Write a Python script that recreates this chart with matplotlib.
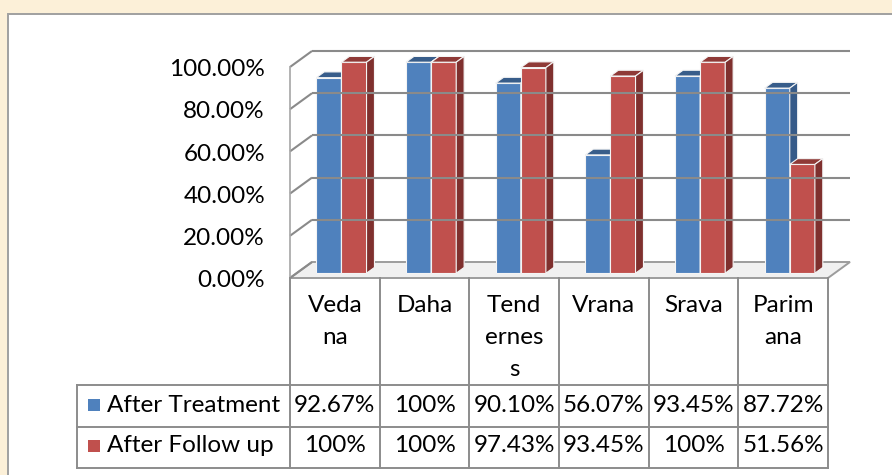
import matplotlib
matplotlib.use("Agg")
import matplotlib.pyplot as plt
from matplotlib.patches import Polygon, Rectangle

# chart data
categories = ["Vedana", "Daha", "Tenderness", "Vrana", "Srava", "Parimana"]
header_lines = [["Veda", "na"], ["Daha"], ["Tend", "ernes", "s"],
                ["Vrana"], ["Srava"], ["Parim", "ana"]]
series_names = ["After Treatment", "After Follow up"]
after_treatment = [92.67, 100, 90.10, 56.07, 93.45, 87.72]
after_follow_up = [100, 100, 97.43, 93.45, 100, 51.56]
treatment_labels = ["92.67%", "100%", "90.10%", "56.07%", "93.45%", "87.72%"]
follow_up_labels = ["100%", "100%", "97.43%", "93.45%", "100%", "51.56%"]
y_ticks = [0, 20, 40, 60, 80, 100]

FONT = "Lato"
FS = 17.5
W, H = 892, 475

# face colours: front, top, side
blue = ("#4f81bd", "#385d8a", "#365a88")
red = ("#c0504d", "#8f3a37", "#7f302e")
grid_c = "#8a8a8a"

n = len(categories)
px_per_cat = 538 / n
px_per_pct = 211 / 100.0
DX = 22 / px_per_cat   # depth offset in category units
DY = 16 / px_per_pct   # depth offset in percent units
Z0, Z1 = 0.30, 0.66    # bar depth range (fraction of full depth)
BW = 0.28


def fig_rect(x0, y0, x1, y1):
    # pixel box (top-left origin) -> figure fraction
    return [x0 / W, (H - y1) / H, (x1 - x0) / W, (y1 - y0) / H]


def p(x, y, z):
    return (x + z * DX, y + z * DY)


def bar3d(ax, x0, h, cols):
    x1 = x0 + BW
    front = [p(x0, 0, Z0), p(x1, 0, Z0), p(x1, h, Z0), p(x0, h, Z0)]
    top = [p(x0, h, Z0), p(x1, h, Z0), p(x1, h, Z1), p(x0, h, Z1)]
    side = [p(x1, 0, Z0), p(x1, 0, Z1), p(x1, h, Z1), p(x1, h, Z0)]
    for pts, c in zip((front, top, side), cols):
        ax.add_patch(Polygon(pts, closed=True, facecolor=c, edgecolor="#f4f4f4",
                             lw=0.8, clip_on=False, joinstyle="miter"))


fig = plt.figure(figsize=(W / 100, H / 100), dpi=100)
fig.patch.set_facecolor("#fcf0d8")

# white chart frame
frame = fig.add_axes([0, 0, 1, 1])
frame.set_xlim(0, W)
frame.set_ylim(H, 0)
frame.axis("off")
frame.add_patch(Rectangle((8, 14), W, H, facecolor="white",
                          edgecolor="#a0a0a0", lw=1.4))

ax = fig.add_axes(fig_rect(290, 67, 828, 278))
ax.set_xlim(0, n)
ax.set_ylim(0, 100)
ax.axis("off")

# left wall + back wall gridlines
for v in y_ticks:
    ax.plot([0, DX], [v, v + DY], color=grid_c, lw=1.5, clip_on=False,
            solid_capstyle="butt")
    if v > 0:
        ax.plot([DX, n + DX], [v + DY, v + DY], color=grid_c, lw=1.5,
                clip_on=False, solid_capstyle="butt")
ax.plot([0, 0], [0, 100], color="#a6a6a6", lw=1.2, clip_on=False)

# floor
floor = [p(0, 0, 0), p(n, 0, 0), p(n, 0, 1), p(0, 0, 1)]
ax.add_patch(Polygon(floor, closed=True, facecolor="#f0f0f0",
                     edgecolor="#9c9c9c", lw=1.4, clip_on=False))

for i in range(n):
    bar3d(ax, i + 0.5 - BW, after_treatment[i], blue)
    bar3d(ax, i + 0.5, after_follow_up[i], red)

for v in y_ticks:
    ax.text(-25 / px_per_cat, v - 1.3, "%.2f%%" % v, ha="right", va="center",
            fontsize=FS, family=FONT, color="black", clip_on=False)

# data table below the plot
tab = fig.add_axes(fig_rect(77, 278, 828, 468))
left = -(290 - 77) / px_per_cat
tab.set_xlim(left, n)
tab.set_ylim(190, 0)
tab.axis("off")
line_c = "#8c8c8c"
for i in range(n + 1):
    tab.plot([i, i], [0, 190], color=line_c, lw=1.4, clip_on=False)
tab.plot([left, left], [107, 190], color=line_c, lw=1.4, clip_on=False)
for yy in (107, 149, 190):
    tab.plot([left, n], [yy, yy], color=line_c, lw=1.4, clip_on=False)

for i, lines in enumerate(header_lines):
    for k, s in enumerate(lines):
        tab.text(i + 0.5, 27 + 32.5 * k, s, ha="center", va="center",
                 fontsize=FS, family=FONT)

rows = [(series_names[0], blue[0], treatment_labels),
        (series_names[1], red[0], follow_up_labels)]
for r, (name, col, labels) in enumerate(rows):
    yc = 127 + 41 * r
    tab.add_patch(Rectangle((-(290 - 88) / px_per_cat, yc - 6), 12 / px_per_cat, 12,
                            facecolor=col, edgecolor="none", clip_on=False))
    tab.text(-(290 - 107) / px_per_cat, yc, name, ha="left", va="center",
             fontsize=FS, family=FONT)
    for i, s in enumerate(labels):
        tab.text(i + 0.5, yc, s, ha="center", va="center", fontsize=FS, family=FONT)

fig.savefig("out.png", dpi=100, facecolor=fig.get_facecolor())
